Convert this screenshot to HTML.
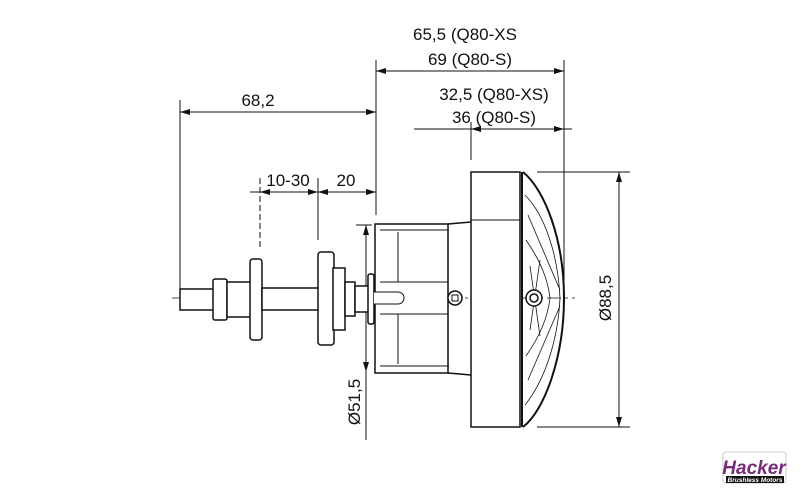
<!DOCTYPE html><html><head><style>body{margin:0;background:#fff}svg{display:block}text{font-family:"Liberation Sans",sans-serif;fill:#111}</style></head><body>
<svg width="800" height="500" viewBox="0 0 800 500" xmlns="http://www.w3.org/2000/svg">
<defs><marker id="a" viewBox="0 0 10 6" refX="10" refY="3" markerWidth="10" markerHeight="6" orient="auto-start-reverse" markerUnits="userSpaceOnUse"><path d="M0,0L10,3L0,6z" fill="#111"/></marker></defs>
<g stroke="#111" stroke-width="1" fill="none">
<line x1="376" y1="60" x2="376" y2="215"/><line x1="564" y1="60" x2="564" y2="298"/>
<line x1="180" y1="100" x2="180" y2="290"/>
<line x1="471" y1="122" x2="471" y2="160"/>
<line x1="260" y1="178" x2="260" y2="248" stroke-dasharray="6,3"/><line x1="318" y1="178" x2="318" y2="240"/>
<line x1="376" y1="71" x2="564" y2="71" marker-start="url(#a)" marker-end="url(#a)"/>
<line x1="180" y1="112" x2="376" y2="112" marker-start="url(#a)" marker-end="url(#a)"/>
<line x1="414" y1="129" x2="572" y2="129"/>
<line x1="471" y1="129" x2="490" y2="129" marker-start="url(#a)"/><line x1="545" y1="129" x2="564" y2="129" marker-end="url(#a)"/>
<line x1="250" y1="192" x2="376" y2="192"/>
<line x1="260" y1="192" x2="278" y2="192" marker-start="url(#a)"/><line x1="300" y1="192" x2="318" y2="192" marker-end="url(#a)"/>
<line x1="318" y1="192" x2="336" y2="192" marker-start="url(#a)"/><line x1="358" y1="192" x2="376" y2="192" marker-end="url(#a)"/>
<line x1="537" y1="172" x2="630" y2="172"/><line x1="537" y1="427" x2="630" y2="427"/>
<line x1="619" y1="172" x2="619" y2="427" marker-start="url(#a)" marker-end="url(#a)"/>
<line x1="356" y1="225" x2="372" y2="225"/>
<line x1="366" y1="225" x2="366" y2="372" marker-start="url(#a)" marker-end="url(#a)"/>
<line x1="366" y1="372" x2="366" y2="440"/>
<line x1="172" y1="298" x2="575" y2="298" stroke-dasharray="14,4,3,4" stroke-width="0.7"/>
</g>
<g stroke="#111" stroke-width="1.5" fill="#fff">
<rect x="180" y="289" width="40" height="21"/>
<rect x="213" y="279" width="14" height="41" rx="2"/>
<rect x="227" y="282" width="24" height="35"/>
<rect x="250" y="259" width="12" height="81" rx="3"/>
<rect x="262" y="288" width="58" height="22"/>
<rect x="318" y="252" width="16" height="93" rx="3"/>
<rect x="333" y="268" width="12" height="62"/>
<rect x="345" y="282" width="10" height="34"/>
<rect x="355" y="286" width="15" height="26"/>
<rect x="368" y="274" width="6" height="50" rx="2"/>
<rect x="375" y="224" width="73" height="149"/>
<path d="M448,224L471,222M448,373L471,375" fill="none"/>
<path d="M380,230h69M380,366h69M398,232v50h50M398,364v-50h50M380,282h68M380,314h68" fill="none" stroke-width="1"/>
<path d="M374,292h24a6,6 0 0 1 0,12h-24" fill="#fff" stroke-width="1"/>
<circle cx="455" cy="298" r="7"/><rect x="452" y="295" width="6" height="6" fill="none" stroke-width="1"/>
<rect x="471" y="172" width="49" height="255"/>
<line x1="471" y1="220" x2="520" y2="220" stroke-width="1"/>
<line x1="522" y1="172" x2="522" y2="427" stroke-width="2"/>
<path d="M523,172C545,190 564,240 564,298C564,356 545,410 523,427" fill="none" stroke-width="2"/>
<path d="M525,195C545,215 558,255 560,298C558,340 545,380 525,405M526,240C540,260 548,280 550,298M526,356C540,336 548,316 550,298M528,215L560,290M528,380L560,306M540,260L530,330M540,336L530,266" fill="none" stroke-width="0.8"/>
<circle cx="534" cy="298" r="8"/><circle cx="534" cy="298" r="4" fill="none"/>
</g>
<g font-size="17">
<text x="465" y="40" text-anchor="middle">65,5 (Q80-XS</text>
<text x="470" y="65" text-anchor="middle">69 (Q80-S)</text>
<text x="258" y="106" text-anchor="middle">68,2</text>
<text x="494" y="100" text-anchor="middle">32,5 (Q80-XS)</text>
<text x="494" y="123" text-anchor="middle">36 (Q80-S)</text>
<text x="288" y="186" text-anchor="middle">10-30</text>
<text x="346" y="186" text-anchor="middle">20</text>
<text transform="translate(611,298) rotate(-90)" text-anchor="middle">Ø88,5</text>
<text transform="translate(360,402) rotate(-90)" text-anchor="middle">Ø51,5</text>
</g>
<rect x="723" y="452" width="63" height="31" rx="3" fill="#fff" stroke="#ccc"/>
<text x="754" y="474" text-anchor="middle" font-size="19" font-weight="bold" font-style="italic" style="fill:#7a2a7a">Hacker</text>
<rect x="726" y="476" width="58" height="7" fill="#111"/>
<text x="755" y="482" text-anchor="middle" font-size="6.5" font-style="italic" font-weight="bold" style="fill:#fff">Brushless Motors</text>
</svg></body></html>
